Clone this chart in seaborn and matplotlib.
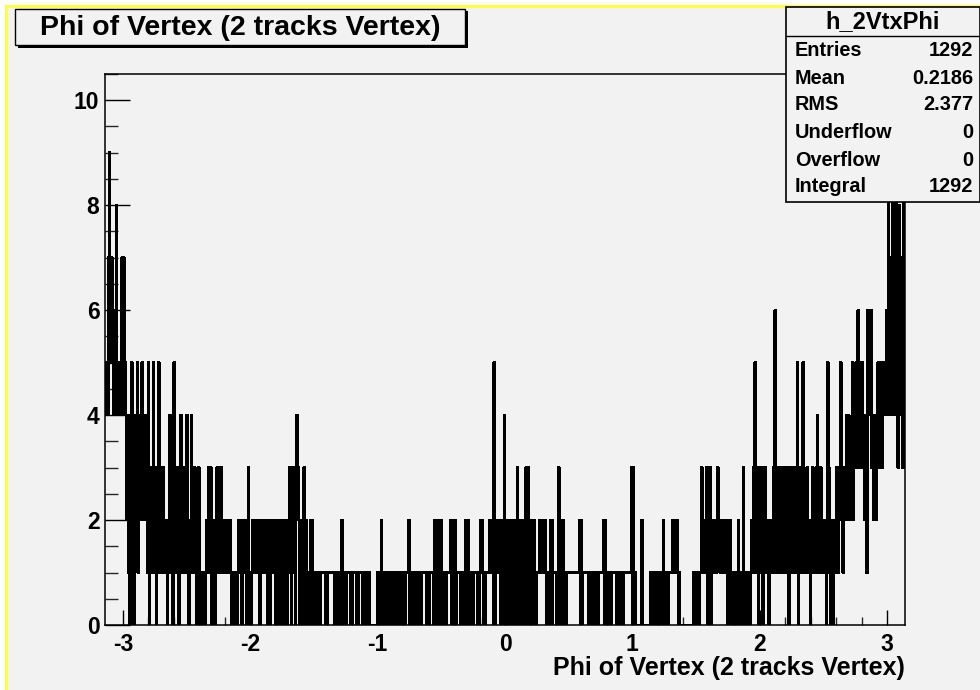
import numpy as np
import pandas as pd
import matplotlib
matplotlib.use("Agg")
import matplotlib.pyplot as plt
from matplotlib.patches import Rectangle
from matplotlib.ticker import MultipleLocator
import seaborn as sns

# Bin contents of h_2VtxPhi: 1000 equal bins over [-pi, pi], ten blocks of 100 bins
phi_counts_0 = [5, 4, 5, 4, 7, 9, 5, 6, 7, 5, 6, 4, 5, 4, 8, 5, 4, 5, 4, 5, 4, 7, 4, 7, 4, 5,
                4, 2, 3, 1, 4, 0, 2, 5, 3, 4, 0, 2, 4, 3, 5, 1, 4, 4, 2, 3, 5, 4, 2, 3, 4,
                2, 3, 1, 5, 0, 3, 1, 2, 3, 5, 2, 1, 3, 0, 2, 1, 5, 2, 3, 1, 2, 1, 3, 2, 1,
                1, 2, 0, 1, 2, 4, 1, 2, 1, 0, 5, 2, 1, 2, 3, 1, 0, 2, 1, 4, 2, 1, 3, 1]
phi_counts_1 = [1, 2, 4, 1, 2, 0, 1, 2, 4, 3, 1, 2, 3, 1, 2, 0, 1, 3, 0, 1, 0, 1, 0, 1, 1,
                0, 1, 2, 1, 3, 2, 1, 3, 0, 1, 2, 1, 0, 2, 1, 3, 2, 3, 1, 2, 3, 1, 2, 1, 2,
                1, 2, 1, 2, 1, 2, 2, 1, 0, 1, 0, 1, 0, 1, 1, 0, 1, 2, 1, 2, 1, 0, 1, 2, 1,
                2, 1, 0, 1, 3, 1, 0, 1, 0, 1, 2, 1, 2, 1, 2, 2, 1, 2, 1, 0, 1, 2, 1, 2, 1]
phi_counts_2 = [2, 1, 2, 1, 0, 1, 2, 0, 2, 1, 2, 1, 1, 0, 2, 1, 2, 0, 1, 0, 1, 2, 0, 2, 0,
                1, 2, 1, 0, 1, 2, 3, 1, 0, 2, 3, 2, 1, 0, 3, 4, 2, 3, 1, 0, 2, 0, 2, 1, 3,
                2, 0, 2, 1, 0, 1, 0, 2, 0, 2, 1, 0, 1, 1, 1, 0, 1, 0, 1, 0, 1, 1, 1, 1, 1,
                1, 0, 1, 0, 1, 1, 1, 1, 1, 1, 1, 1, 0, 1, 0, 1, 0, 1, 0, 1, 0, 2, 0, 1, 0]
phi_counts_3 = [1, 0, 1, 1, 1, 1, 1, 0, 1, 0, 1, 1, 1, 1, 1, 0, 1, 0, 1, 1, 1, 1, 0, 1, 0,
                1, 1, 1, 0, 1, 0, 1, 0, 0, 0, 0, 0, 0, 0, 0, 0, 1, 0, 1, 0, 1, 2, 1, 0,
                1, 0, 1, 1, 0, 1, 0, 1, 1, 0, 1, 0, 1, 1, 0, 1, 0, 1, 0, 1, 0, 1, 0,
                1, 1, 0, 1, 0, 1, 1, 1, 2, 0, 1, 0, 1, 1, 0, 1, 0, 1, 0, 1, 1, 0, 1, 0, 1,
                1, 1, 1]
phi_counts_4 = [1, 1, 1, 0, 1, 0, 1, 1, 1, 1, 1, 0, 2, 0, 2, 1, 2, 0, 2, 1, 2, 0, 1, 0, 1,
                0, 1, 0, 1, 1, 1, 1, 1, 2, 0, 2, 0, 1, 2, 0, 1, 1, 1, 1, 1, 0, 1, 0, 1, 1,
                1, 0, 2, 0, 2, 1, 0, 1, 1, 0, 1, 0, 1, 1, 1, 1, 0, 1, 0, 1, 2, 1, 2, 1, 0,
                1, 0, 1, 1, 1, 1, 2, 1, 2, 2, 1, 0, 5, 0, 2, 1, 1, 1, 1, 2, 0, 2, 1, 0, 2]
phi_counts_5 = [4, 0, 2, 1, 0, 2, 0, 1, 2, 0, 1, 2, 0, 2, 1, 0, 3, 0, 2, 1, 0, 2, 1, 0, 2,
                0, 1, 3, 0, 2, 3, 0, 1, 2, 0, 1, 0, 2, 1, 0, 1, 1, 1, 1, 2, 1, 2, 1, 2, 2,
                1, 2, 1, 0, 1, 1, 1, 0, 2, 0, 2, 1, 1, 1, 1, 1, 0, 1, 3, 0, 1, 2, 0, 2, 1,
                0, 1, 0, 1, 1, 1, 1, 1, 1, 1, 1, 1, 1, 1, 1, 1, 1, 1, 1, 2, 0, 2, 0, 1, 1]
phi_counts_6 = [1, 1, 1, 1, 1, 1, 0, 1, 0, 1, 1, 1, 1, 0, 1, 0, 1, 0, 1, 1, 1, 1, 1, 1,
                2, 0, 2, 0, 1, 1, 0, 1, 0, 1, 0, 1, 1, 1, 1, 1, 1, 0, 1, 0, 1, 1, 1, 0, 1,
                0, 1, 1, 1, 1, 1, 1, 1, 1, 1, 3, 0, 3, 1, 0, 1, 0, 0, 0, 0, 0, 0, 0, 2, 0,
                0, 0, 0, 0, 0, 0, 0, 0, 0, 1, 0, 1, 0, 1, 0, 1, 0, 1, 1, 0, 1, 0, 1, 0, 1,
                2, 0, 1]
phi_counts_7 = [1, 0, 1, 0, 1, 1, 1, 1, 1, 2, 1, 2, 2, 1, 2, 1, 0, 1, 0, 0, 0, 0, 0, 0, 0,
                0, 0, 0, 0, 0, 0, 0, 0, 0, 0, 1, 0, 1, 1, 0, 1, 1, 0, 1, 1, 3, 1, 1, 2, 1,
                2, 3, 2, 0, 3, 2, 3, 0, 2, 1, 2, 1, 2, 1, 2, 3, 2, 2, 1, 2, 1, 2, 1, 2, 1,
                2, 1, 2, 0, 1, 2, 1, 1, 0, 1, 1, 0, 1, 1, 0, 1, 2, 1, 0, 1, 1, 0, 3, 1, 0]
phi_counts_8 = [1, 1, 0, 1, 1, 1, 0, 1, 2, 1, 3, 1, 5, 2, 3, 1, 0, 3, 2, 1, 3, 2, 0, 3, 1,
                3, 2, 1, 2, 0, 1, 2, 1, 2, 1, 3, 1, 6, 3, 1, 2, 3, 1, 3, 2, 1, 3, 1, 2, 3,
                1, 3, 2, 1, 0, 3, 1, 2, 3, 1, 2, 3, 1, 3, 1, 5, 0, 2, 3, 1, 2, 3, 5, 1, 2,
                1, 2, 3, 1, 2, 1, 0, 2, 1, 3, 2, 1, 2, 1, 3, 4, 1, 2, 1, 3, 1, 2, 1, 2, 1]
phi_counts_9 = [2, 0, 1, 5, 3, 1, 0, 2, 1, 0, 2, 1, 2, 1, 3, 2, 1, 3, 2, 5, 3, 2, 1, 3, 2,
                3, 4, 2, 3, 4, 2, 3, 2, 3, 5, 2, 3, 4, 3, 5, 4, 6, 3, 5, 4, 3, 5, 4, 3, 2,
                3, 4, 1, 6, 4, 5, 4, 6, 3, 4, 2, 4, 3, 2, 4, 3, 5, 4, 3, 5, 4, 3, 5, 4, 5,
                5, 4, 6, 4, 10, 5, 4, 7, 4, 10, 5, 4, 6, 9, 4, 5, 3, 8, 4, 5, 7, 4, 3, 9, 5]

hist_name = "h_2VtxPhi"
hist_title = "Phi of Vertex (2 tracks Vertex)"
x_title = "Phi of Vertex (2 tracks Vertex)"
stat_labels = ["Entries", "Mean", "RMS", "Underflow", "Overflow", "Integral"]
stat_values = ["1292", "0.2186", "2.377", "0", "0", "1292"]
x_tick_values = [-3, -2, -1, 0, 1, 2, 3]
y_tick_values = [0, 2, 4, 6, 8, 10]

counts = np.array(phi_counts_0 + phi_counts_1 + phi_counts_2 + phi_counts_3 + phi_counts_4
                  + phi_counts_5 + phi_counts_6 + phi_counts_7 + phi_counts_8 + phi_counts_9,
                  dtype=float)
n_bins = len(counts)
edges = np.linspace(-np.pi, np.pi, n_bins + 1)
centers = 0.5 * (edges[:-1] + edges[1:])
df = pd.DataFrame({"phi": centers, "n": counts})

sns.set_theme(style="ticks")
plt.rcParams["font.family"] = ["Liberation Sans", "DejaVu Sans"]
plt.rcParams["axes.unicode_minus"] = False

W, H = 980, 690
BG = "#f2f2f2"
fig = plt.figure(figsize=(W / 100, H / 100), dpi=100, facecolor="white")


def fx(px):
    return px / W


def fy(py):
    return 1 - py / H


# pad background with the yellow highlight edge
fig.add_artist(Rectangle((fx(5), 0), 1 - fx(5), fy(5), transform=fig.transFigure,
                         facecolor="#ffff40", edgecolor="none", zorder=0))
fig.add_artist(Rectangle((fx(8), 0), 1 - fx(8), fy(8), transform=fig.transFigure,
                         facecolor=BG, edgecolor="none", zorder=0))

ax = fig.add_axes([fx(105), fy(625), fx(905) - fx(105), fy(74) - fy(625)])
ax.set_facecolor(BG)

# outline of the histogram, drawn pixel-crisp
sns.histplot(data=df, x="phi", weights="n", bins=n_bins, binrange=(-np.pi, np.pi),
             element="step", fill=False, color="black", linewidth=1.3,
             antialiased=False, ax=ax)

ax.set_xlim(-np.pi, np.pi)
ax.set_ylim(0, 10.5)
ax.set_xlabel("")
ax.set_ylabel("")
for side in ["left", "right", "top", "bottom"]:
    ax.spines[side].set_visible(True)
    ax.spines[side].set_color("black")
    ax.spines[side].set_linewidth(1.1)

ax.set_xticks(x_tick_values)
ax.set_xticklabels([str(v) for v in x_tick_values])
ax.set_yticks(y_tick_values)
ax.set_yticklabels([str(v) for v in y_tick_values])
ax.xaxis.set_minor_locator(MultipleLocator(0.2))
ax.yaxis.set_minor_locator(MultipleLocator(0.5))
ax.tick_params(axis="x", which="major", direction="in", length=11, width=1.0,
               pad=6, labelsize=16.5, colors="black", top=False)
ax.tick_params(axis="x", which="minor", direction="in", length=6, width=1.0, top=False)
ax.tick_params(axis="y", which="major", direction="in", length=18, width=1.0,
               pad=4, labelsize=16.5, colors="black", right=False)
ax.tick_params(axis="y", which="minor", direction="in", length=9.5, width=1.0, right=False)
for lab in ax.get_xticklabels() + ax.get_yticklabels():
    lab.set_fontweight("bold")

fig.text(fx(905), fy(668), x_title, ha="right", va="center", fontsize=18,
         fontweight="bold", color="black")

# title pave with its shadow
fig.add_artist(Rectangle((fx(18), fy(48)), fx(450), 37 / H, transform=fig.transFigure,
                         facecolor="black", edgecolor="none", zorder=5))
fig.add_artist(Rectangle((fx(15), fy(45)), fx(450), 36 / H, transform=fig.transFigure,
                         facecolor=BG, edgecolor="black", linewidth=1.0, zorder=6))
fig.text(fx(240), fy(28), hist_title, ha="center", va="center", fontsize=20.5,
         fontweight="bold", color="black", zorder=7)

# statistics box
fig.add_artist(Rectangle((fx(786), fy(202)), fx(980 - 786), (202 - 7) / H,
                         transform=fig.transFigure, facecolor=BG, edgecolor="black",
                         linewidth=1.2, zorder=6))
fig.add_artist(plt.Line2D([fx(786), 1], [fy(36), fy(36)], transform=fig.transFigure,
                          color="black", linewidth=1.0, zorder=7))
fig.text(fx(883), fy(22), hist_name, ha="center", va="center", fontsize=17,
         fontweight="bold", color="black", zorder=7)
row_y = [50, 78, 105, 133, 160, 187]
for lab, val, yy in zip(stat_labels, stat_values, row_y):
    fig.text(fx(795), fy(yy), lab, ha="left", va="center", fontsize=14.3,
             fontweight="bold", color="black", zorder=7)
    fig.text(fx(973), fy(yy), val, ha="right", va="center", fontsize=14.3,
             fontweight="bold", color="black", zorder=7)

fig.savefig("out.png", dpi=100, facecolor=fig.get_facecolor())
